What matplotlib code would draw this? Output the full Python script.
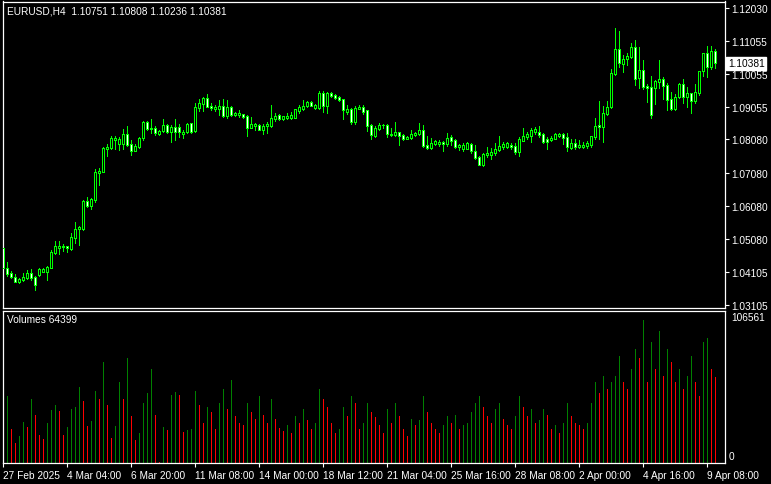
import numpy as np
import matplotlib.pyplot as plt
from matplotlib.transforms import blended_transform_factory

# EURUSD H4, 27 Feb - 9 Apr 2025
opens = [
    1.0480, 1.0420, 1.0406, 1.0393, 1.0379, 1.0386, 1.0392, 1.0406, 1.0394, 1.0400,
    1.0410, 1.0410, 1.0422, 1.0466, 1.0482, 1.0484, 1.0486, 1.0478, 1.0511, 1.0539,
    1.0539, 1.0623, 1.0609, 1.0626, 1.0707, 1.0711, 1.0780, 1.0782, 1.0807, 1.0794,
    1.0794, 1.0824, 1.0794, 1.0773, 1.0784, 1.0812, 1.0860, 1.0842, 1.0842, 1.0824,
    1.0833, 1.0851, 1.0830, 1.0847, 1.0845, 1.0824, 1.0831, 1.0857, 1.0833, 1.0903,
    1.0915, 1.0933, 1.0909, 1.0900, 1.0900, 1.0910, 1.0879, 1.0907, 1.0882, 1.0882,
    1.0884, 1.0879, 1.0844, 1.0848, 1.0852, 1.0836, 1.0850, 1.0848, 1.0870, 1.0882,
    1.0870, 1.0874, 1.0872, 1.0874, 1.0895, 1.0899, 1.0909, 1.0921, 1.0903, 1.0903,
    1.0947, 1.0909, 1.0947, 1.0941, 1.0937, 1.0929, 1.0891, 1.0900, 1.0860, 1.0900,
    1.0907, 1.0896, 1.0852, 1.0818, 1.0840, 1.0851, 1.0852, 1.0826, 1.0822, 1.0830,
    1.0822, 1.0810, 1.0812, 1.0822, 1.0824, 1.0836, 1.0790, 1.0782, 1.0795, 1.0795,
    1.0801, 1.0795, 1.0816, 1.0806, 1.0786, 1.0778, 1.0780, 1.0795, 1.0772, 1.0756,
    1.0730, 1.0760, 1.0762, 1.0766, 1.0776, 1.0784, 1.0786, 1.0792, 1.0788, 1.0770,
    1.0804, 1.0815, 1.0818, 1.0830, 1.0832, 1.0824, 1.0808, 1.0806, 1.0810, 1.0820,
    1.0824, 1.0815, 1.0782, 1.0798, 1.0786, 1.0786, 1.0788, 1.0792, 1.0816, 1.0852,
    1.0846, 1.0885, 1.0905, 1.1005, 1.1080, 1.1035, 1.1049, 1.1057, 1.1086, 1.0993,
    1.1017, 1.0969, 1.0965, 1.0963, 1.0981, 1.0989, 1.0971, 1.0929, 1.0899, 1.0935,
    1.0975, 1.0935, 1.0947, 1.0925, 1.0948, 1.1013, 1.1067, 1.1025, 1.10751,
]
highs = [
    1.0486, 1.0438, 1.0413, 1.0402, 1.0391, 1.0405, 1.0415, 1.0418, 1.0398, 1.0420,
    1.0421, 1.0428, 1.0475, 1.0502, 1.0502, 1.0493, 1.0488, 1.0527, 1.0559, 1.0547,
    1.0627, 1.0634, 1.0633, 1.0719, 1.0721, 1.0785, 1.0794, 1.0818, 1.0818, 1.0816,
    1.0840, 1.0849, 1.0807, 1.0794, 1.0815, 1.0865, 1.0865, 1.0870, 1.0849, 1.0837,
    1.0870, 1.0854, 1.0851, 1.0870, 1.0854, 1.0836, 1.0858, 1.0859, 1.0918, 1.0930,
    1.0935, 1.0945, 1.0917, 1.0911, 1.0926, 1.0930, 1.0926, 1.0909, 1.0890, 1.0897,
    1.0886, 1.0881, 1.0876, 1.0858, 1.0856, 1.0854, 1.0862, 1.0913, 1.0888, 1.0884,
    1.0880, 1.0888, 1.0890, 1.0901, 1.0913, 1.0926, 1.0925, 1.0923, 1.0915, 1.0955,
    1.0953, 1.0951, 1.0951, 1.0945, 1.0939, 1.0931, 1.0913, 1.0903, 1.0910, 1.0913,
    1.0913, 1.0897, 1.0854, 1.0850, 1.0858, 1.0856, 1.0854, 1.0842, 1.0860, 1.0832,
    1.0824, 1.0818, 1.0838, 1.0832, 1.0857, 1.0853, 1.0818, 1.0812, 1.0807, 1.0807,
    1.0804, 1.0827, 1.0822, 1.0808, 1.0795, 1.0797, 1.0800, 1.0798, 1.0792, 1.0758,
    1.0768, 1.0785, 1.0782, 1.0797, 1.0818, 1.0800, 1.0800, 1.0797, 1.0797, 1.0816,
    1.0842, 1.0832, 1.0844, 1.0846, 1.0848, 1.0828, 1.0814, 1.0818, 1.0827, 1.0828,
    1.0828, 1.0828, 1.0808, 1.0808, 1.0806, 1.0800, 1.0803, 1.0820, 1.0873, 1.0923,
    1.0909, 1.0923, 1.1019, 1.1144, 1.1134, 1.1062, 1.1068, 1.1098, 1.1108, 1.1088,
    1.1047, 1.0975, 1.0999, 1.0987, 1.1047, 1.0995, 1.0978, 1.0950, 1.0946, 1.0977,
    1.0989, 1.0965, 1.0949, 1.0975, 1.1015, 1.1069, 1.1089, 1.1091, 1.10808,
]
lows = [
    1.0416, 1.0398, 1.0390, 1.0378, 1.0376, 1.0382, 1.0388, 1.0386, 1.0356, 1.0396,
    1.0408, 1.0386, 1.0421, 1.0464, 1.0463, 1.0473, 1.0468, 1.0476, 1.0496, 1.0490,
    1.0534, 1.0604, 1.0599, 1.0621, 1.0672, 1.0709, 1.0759, 1.0780, 1.0780, 1.0777,
    1.0780, 1.0789, 1.0761, 1.0772, 1.0782, 1.0807, 1.0837, 1.0828, 1.0822, 1.0822,
    1.0830, 1.0828, 1.0801, 1.0807, 1.0815, 1.0812, 1.0828, 1.0828, 1.0830, 1.0895,
    1.0893, 1.0905, 1.0897, 1.0893, 1.0882, 1.0876, 1.0874, 1.0879, 1.0879, 1.0876,
    1.0874, 1.0819, 1.0842, 1.0838, 1.0836, 1.0826, 1.0827, 1.0846, 1.0864, 1.0866,
    1.0868, 1.0870, 1.0870, 1.0872, 1.0888, 1.0897, 1.0907, 1.0909, 1.0901, 1.0901,
    1.0891, 1.0888, 1.0935, 1.0929, 1.0923, 1.0870, 1.0886, 1.0854, 1.0856, 1.0900,
    1.0884, 1.0834, 1.0810, 1.0816, 1.0836, 1.0842, 1.0816, 1.0818, 1.0820, 1.0792,
    1.0806, 1.0809, 1.0810, 1.0818, 1.0822, 1.0786, 1.0778, 1.0778, 1.0791, 1.0788,
    1.0774, 1.0788, 1.0792, 1.0782, 1.0776, 1.0774, 1.0778, 1.0768, 1.0748, 1.0730,
    1.0728, 1.0756, 1.0750, 1.0760, 1.0772, 1.0780, 1.0782, 1.0780, 1.0764, 1.0758,
    1.0803, 1.0809, 1.0800, 1.0826, 1.0816, 1.0798, 1.0780, 1.0804, 1.0808, 1.0816,
    1.0794, 1.0774, 1.0778, 1.0778, 1.0782, 1.0782, 1.0782, 1.0784, 1.0810, 1.0809,
    1.0800, 1.0883, 1.0903, 1.1003, 1.1027, 1.1011, 1.1031, 1.1053, 1.0973, 1.0963,
    1.0959, 1.0921, 1.0873, 1.0915, 1.0963, 1.0929, 1.0897, 1.0897, 1.0897, 1.0933,
    1.0919, 1.0905, 1.0887, 1.0919, 1.0942, 1.0999, 1.0995, 1.1019, 1.10236,
]
closes = [
    1.0420, 1.0403, 1.0394, 1.0380, 1.0388, 1.0394, 1.0406, 1.0392, 1.0370, 1.0418,
    1.0418, 1.0424, 1.0468, 1.0486, 1.0486, 1.0487, 1.0480, 1.0513, 1.0539, 1.0543,
    1.0623, 1.0607, 1.0629, 1.0709, 1.0714, 1.0782, 1.0786, 1.0812, 1.0812, 1.0810,
    1.0824, 1.0791, 1.0773, 1.0789, 1.0812, 1.0860, 1.0839, 1.0839, 1.0828, 1.0834,
    1.0851, 1.0830, 1.0847, 1.0830, 1.0831, 1.0831, 1.0855, 1.0831, 1.0907, 1.0917,
    1.0933, 1.0907, 1.0903, 1.0907, 1.0910, 1.0879, 1.0905, 1.0882, 1.0888, 1.0888,
    1.0876, 1.0844, 1.0854, 1.0856, 1.0838, 1.0849, 1.0856, 1.0872, 1.0880, 1.0870,
    1.0878, 1.0880, 1.0882, 1.0900, 1.0905, 1.0910, 1.0921, 1.0910, 1.0913, 1.0947,
    1.0910, 1.0949, 1.0939, 1.0933, 1.0927, 1.0897, 1.0900, 1.0862, 1.0903, 1.0907,
    1.0890, 1.0848, 1.0822, 1.0842, 1.0852, 1.0852, 1.0826, 1.0822, 1.0830, 1.0818,
    1.0810, 1.0816, 1.0824, 1.0828, 1.0836, 1.0788, 1.0782, 1.0797, 1.0803, 1.0801,
    1.0795, 1.0812, 1.0804, 1.0786, 1.0792, 1.0792, 1.0797, 1.0772, 1.0752, 1.0732,
    1.0764, 1.0768, 1.0770, 1.0778, 1.0788, 1.0795, 1.0797, 1.0784, 1.0770, 1.0810,
    1.0820, 1.0824, 1.0838, 1.0840, 1.0822, 1.0800, 1.0800, 1.0812, 1.0824, 1.0824,
    1.0812, 1.0784, 1.0798, 1.0786, 1.0792, 1.0792, 1.0797, 1.0818, 1.0850, 1.0846,
    1.0887, 1.0905, 1.1007, 1.1080, 1.1037, 1.1049, 1.1059, 1.1086, 1.0991, 1.1017,
    1.0967, 1.0963, 1.0883, 1.0983, 1.0989, 1.0969, 1.0926, 1.0899, 1.0937, 1.0975,
    1.0935, 1.0947, 1.0925, 1.0950, 1.1013, 1.1067, 1.1025, 1.1073, 1.10381,
]
volumes = [
    35800, 50000, 25500, 15000, 20400, 30700, 27000, 48000, 35800, 21000,
    18000, 30000, 39400, 43000, 38700, 21000, 27000, 40000, 41600, 57000,
    46000, 27700, 31400, 54000, 48000, 75000, 43000, 19000, 27700, 60000,
    47400, 78000, 35000, 17500, 22000, 44500, 52500, 70000, 35800, 700,
    27000, 24800, 51000, 53000, 51000, 23000, 24800, 25500, 54000, 43000,
    30000, 42000, 38000, 25000, 45000, 55000, 40000, 62000, 35000, 30000,
    28000, 45000, 38000, 33000, 50000, 36000, 30000, 48000, 33000, 26000,
    24000, 28000, 22000, 35000, 30000, 40000, 32000, 25000, 30000, 55000,
    48000, 42000, 30000, 22000, 25000, 42000, 35000, 50000, 45000, 25000,
    30000, 45000, 38000, 34000, 28000, 22000, 40000, 30000, 45000, 35000,
    25000, 20000, 33000, 28000, 32000, 50000, 38000, 30000, 25000, 22000,
    28000, 35000, 30000, 36000, 25000, 28000, 30000, 38000, 45000, 50000,
    42000, 35000, 30000, 40000, 45000, 33000, 28000, 25000, 35000, 50000,
    42000, 35000, 40000, 30000, 32000, 40000, 36000, 25000, 28000, 22000,
    30000, 45000, 35000, 30000, 28000, 25000, 30000, 45000, 60000, 52000,
    65000, 55000, 60000, 65000, 80000, 60000, 55000, 70000, 85000, 78000,
    106561, 60000, 90000, 70000, 98000, 65000, 85000, 75000, 60000, 70000,
    55000, 65000, 80000, 60000, 50000, 90000, 93000, 70000, 64399,
]

price_ticks = [1.12030, 1.11055, 1.10055, 1.09055, 1.08080,
               1.07080, 1.06080, 1.05080, 1.04105, 1.03105]
date_labels = ["27 Feb 2025", "4 Mar 04:00", "6 Mar 20:00", "11 Mar 08:00",
               "14 Mar 00:00", "18 Mar 12:00", "21 Mar 04:00", "25 Mar 16:00",
               "28 Mar 08:00", "2 Apr 00:00", "4 Apr 16:00", "9 Apr 08:00"]

o = np.array(opens); h = np.array(highs); l = np.array(lows); c = np.array(closes)
v = np.array(volumes)
x = np.arange(len(o))

W, H = 771, 485
fig = plt.figure(figsize=(W / 100, H / 100), dpi=100, facecolor="black")
ax = fig.add_axes([2.5 / W, 1 - 309 / H, 722 / W, 306.5 / H], facecolor="black")
vax = fig.add_axes([2.5 / W, 21 / H, 722 / W, 152.3 / H], facecolor="black")

font = "Liberation Sans"
lime = "#00ff00"

# candles: wick first, body on top (black = up, white = down)
ax.vlines(x, l, h, color=lime, lw=0.7, antialiased=False, zorder=2)
up = c >= o
body_bot = np.minimum(o, c)
body_h = np.abs(c - o)
ax.bar(x, body_h, bottom=body_bot, width=0.45,
       color=np.where(up, "black", "white"), edgecolor=lime,
       linewidth=0.7, antialiased=False, zorder=3)

ax.set_xlim(-0.2, 180.3)
ax.set_ylim(1.03006, 1.12235)

# volumes, green when higher than the previous bar
vcol = ["#008000" if i == 0 or v[i] > v[i - 1] else "#ff0000" for i in range(len(v))]
vax.vlines(x, 0, v, colors=vcol, lw=0.7, antialiased=False)
vax.set_xlim(-0.2, 180.3)
vax.set_ylim(0, 113500)

for a in (ax, vax):
    for s in a.spines.values():
        s.set_color("white")
        s.set_linewidth(0.9)

ax.yaxis.tick_right()
ax.set_yticks(price_ticks)
ax.set_yticklabels([f"{p:.5f}" for p in price_ticks], fontfamily=font)
ax.tick_params(axis="y", colors="white", length=3, width=0.8, labelsize=7.3, pad=2)
ax.set_xticks([])

vax.set_yticks([])
vax.set_xticks([k * 16 for k in range(len(date_labels))])
vax.set_xticklabels(date_labels, ha="left", fontfamily=font)
vax.tick_params(axis="x", colors="white", length=3, width=0.8, labelsize=7.3, pad=2)

# current price box
tr = blended_transform_factory(ax.transAxes, ax.transData)
ax.text(1 + 3.5 / 722, closes[-1], f"{closes[-1]:.5f}", transform=tr, ha="left", va="center",
        fontsize=7.3, fontfamily=font, color="black",
        bbox=dict(boxstyle="square,pad=0.15", fc="white", ec="white"))

fig.text(7 / W, 1 - 12 / H,
         f"EURUSD,H4  {opens[-1]:.5f} {highs[-1]:.5f} {lows[-1]:.5f} {closes[-1]:.5f}",
         color="white", fontsize=7.3, fontfamily=font, ha="left", va="center")
fig.text(7 / W, 1 - 320 / H, f"Volumes {volumes[-1]}", color="white", fontsize=7.3,
         fontfamily=font, ha="left", va="center")
fig.text(731 / W, 1 - 318 / H, str(max(volumes)), color="white", fontsize=7.3,
         fontfamily=font, ha="left", va="center")
fig.text(729 / W, 1 - 457 / H, "0", color="white", fontsize=7.3,
         fontfamily=font, ha="left", va="center")

fig.savefig("out.png", dpi=100, facecolor="black")
